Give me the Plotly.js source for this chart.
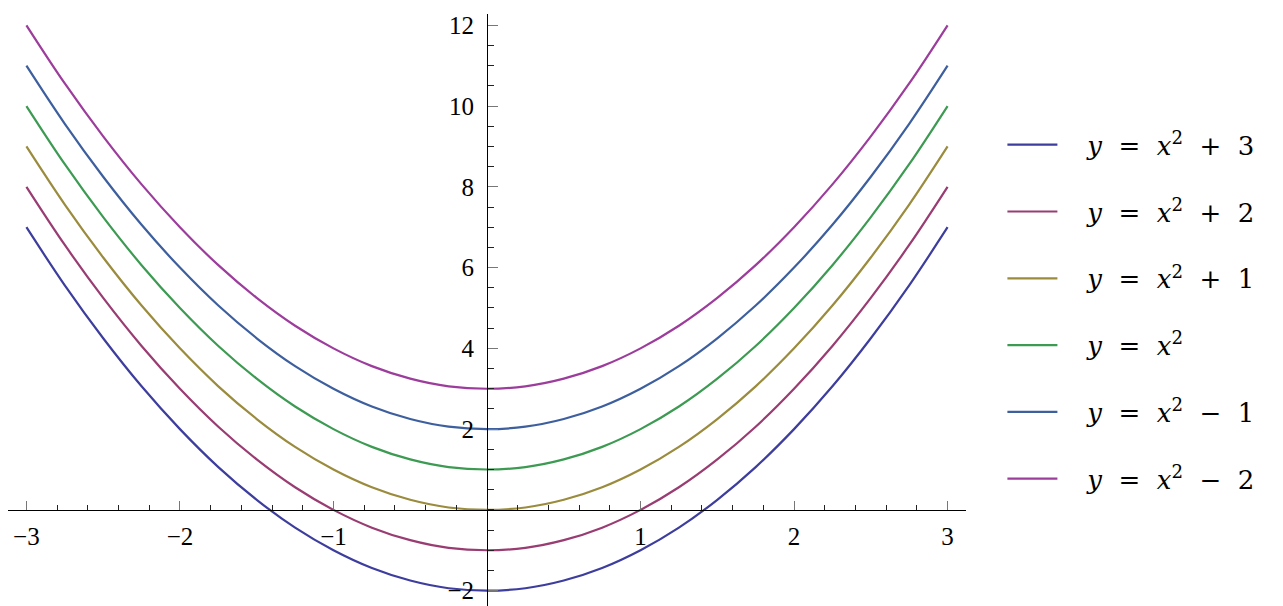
<!DOCTYPE html>
<html>
<head>
<meta charset="utf-8">
<script src="https://cdn.plot.ly/plotly-3.0.1.min.js"></script>
<style>html,body{margin:0;padding:0;background:#fff}#chart{width:1283px;height:606px}</style>
</head>
<body>
<div id="chart"></div>
<script>
// x sample positions
const xValues = [-3, -2.75, -2.5, -2.25, -2, -1.75, -1.5, -1.25, -1, -0.75, -0.5, -0.25, 0,
                 0.25, 0.5, 0.75, 1, 1.25, 1.5, 1.75, 2, 2.25, 2.5, 2.75, 3];

// curve values, bottom curve to top curve
const curveA = [7, 5.56, 4.25, 3.06, 2, 1.06, 0.25, -0.44, -1, -1.44, -1.75, -1.94, -2,
                -1.94, -1.75, -1.44, -1, -0.44, 0.25, 1.06, 2, 3.06, 4.25, 5.56, 7];
const curveB = [8, 6.56, 5.25, 4.06, 3, 2.06, 1.25, 0.56, 0, -0.44, -0.75, -0.94, -1,
                -0.94, -0.75, -0.44, 0, 0.56, 1.25, 2.06, 3, 4.06, 5.25, 6.56, 8];
const curveC = [9, 7.56, 6.25, 5.06, 4, 3.06, 2.25, 1.56, 1, 0.56, 0.25, 0.06, 0,
                0.06, 0.25, 0.56, 1, 1.56, 2.25, 3.06, 4, 5.06, 6.25, 7.56, 9];
const curveD = [10, 8.56, 7.25, 6.06, 5, 4.06, 3.25, 2.56, 2, 1.56, 1.25, 1.06, 1,
                1.06, 1.25, 1.56, 2, 2.56, 3.25, 4.06, 5, 6.06, 7.25, 8.56, 10];
const curveE = [11, 9.56, 8.25, 7.06, 6, 5.06, 4.25, 3.56, 3, 2.56, 2.25, 2.06, 2,
                2.06, 2.25, 2.56, 3, 3.56, 4.25, 5.06, 6, 7.06, 8.25, 9.56, 11];
const curveF = [12, 10.56, 9.25, 8.06, 7, 6.06, 5.25, 4.56, 4, 3.56, 3.25, 3.06, 3,
                3.06, 3.25, 3.56, 4, 4.56, 5.25, 6.06, 7, 8.06, 9.25, 10.56, 12];

// legend labels, in legend order (as printed on the chart)
const legendLabels = [
  'y = x^2 + 3',
  'y = x^2 + 2',
  'y = x^2 + 1',
  'y = x^2',
  'y = x^2 − 1',
  'y = x^2 − 2'
];
const curves = [curveA, curveB, curveC, curveD, curveE, curveF];
const colors = ['#3d3d9e', '#993c72', '#9a8b3d', '#3d9a52', '#3d5f9e', '#9c3d9c'];

// tick labels
const xTickVals = [-3, -2, -1, 1, 2, 3];
const xTickText = ['−3', '−2', '−1', '1', '2', '3'];
const yTickVals = [-2, 2, 4, 6, 8, 10, 12];
const yTickText = ['−2', '2', '4', '6', '8', '10', '12'];

function mathLabel(s) {
  // italic variables, superscript power, wide math spacing around operators
  const sp = '&nbsp;&nbsp;';
  return '&nbsp;&nbsp;&nbsp;' + s.replace(/([yx])/g, '<i>$1</i>')
          .replace(/\^(\d)/g, '<sup>$1</sup>')
          .replace(/ ([=+−]) /g, sp + '$1' + sp);
}

const traces = curves.map((ys, i) => ({
  type: 'scatter', mode: 'lines',
  x: xValues, y: ys,
  name: mathLabel(legendLabels[i]),
  legendgroup: 'g' + i,
  line: {color: colors[i], width: 2.2, shape: 'spline', smoothing: 1},
  hoverinfo: 'skip'
}));

const tickFont = {family: 'Liberation Serif', size: 25, color: '#000'};

const layout = {
  width: 1283, height: 606,
  margin: {l: 8, r: 317, t: 14, b: 0},
  paper_bgcolor: '#fff', plot_bgcolor: '#fff',
  showlegend: true,
  legend: {
    x: 1.038, xanchor: 'left', y: 0.497, yanchor: 'middle',
    font: {family: 'DejaVu Serif', size: 26, color: '#000'},
    tracegroupgap: 30, itemwidth: 50, bgcolor: 'rgba(0,0,0,0)'
  },
  xaxis: {
    range: [-3.12, 3.12], anchor: 'free', position: 0.1623,
    showline: true, linecolor: '#000', linewidth: 1,
    zeroline: false, showgrid: false,
    ticks: 'inside', tickmode: 'array', tickvals: xTickVals, ticktext: xTickText,
    ticklen: 9, tickwidth: 1, tickcolor: '#777',
    minor: {ticks: 'inside', tickmode: 'linear', tick0: 0, dtick: 0.2, ticklen: 5, tickwidth: 1, tickcolor: '#222', showgrid: false},
    tickfont: tickFont, ticklabelstandoff: 4, fixedrange: true
  },
  yaxis: {
    range: [-2.38, 12.28], anchor: 'free', position: 0.5,
    showline: true, linecolor: '#000', linewidth: 1,
    zeroline: false, showgrid: false,
    ticks: 'inside', tickmode: 'array', tickvals: yTickVals, ticktext: yTickText,
    ticklen: 10, tickwidth: 1, tickcolor: '#777',
    minor: {ticks: 'inside', tickmode: 'linear', tick0: 0, dtick: 0.5, ticklen: 6, tickwidth: 1, tickcolor: '#222', showgrid: false},
    tickfont: tickFont, ticklabelstandoff: 8, fixedrange: true
  }
};

Plotly.newPlot('chart', traces, layout, {displayModeBar: false, staticPlot: true});
</script>
</body>
</html>
